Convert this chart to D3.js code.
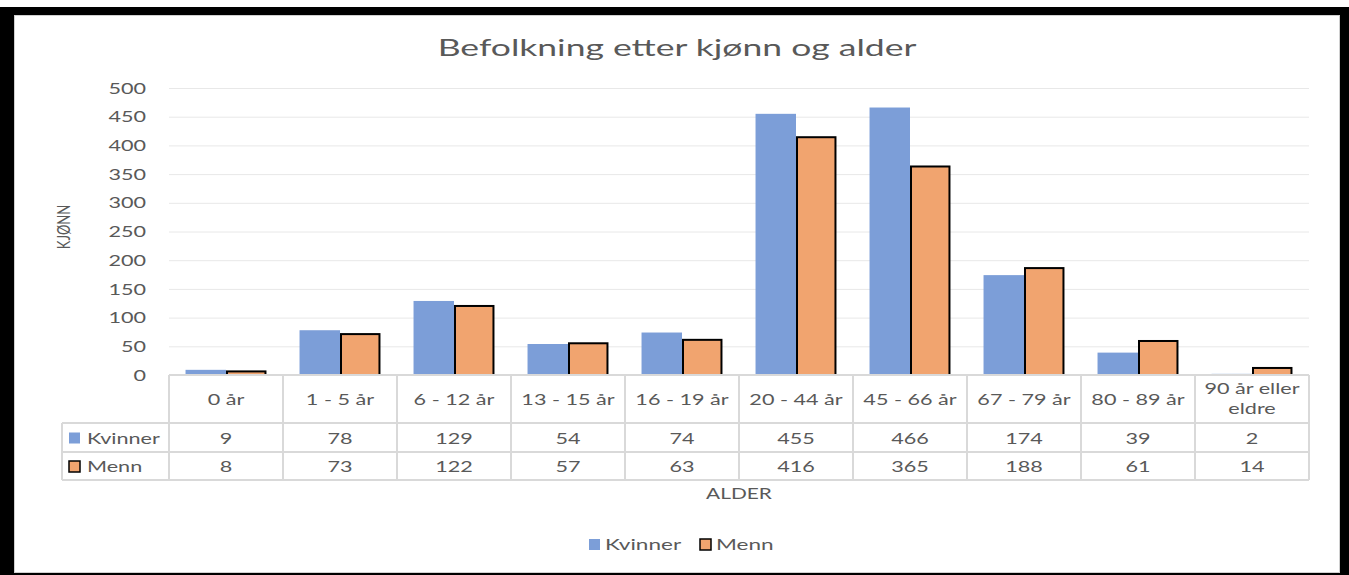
<!DOCTYPE html>
<html>
<head>
<meta charset="utf-8">
<script src="https://cdn.jsdelivr.net/npm/d3@7"></script>
<style>
  body { margin: 0; background: #fff; }
  text { font-family: Lato, "Open Sans", sans-serif; fill: #595959; }
</style>
</head>
<body>
<div id="chart"></div>
<script>
  const categories = ['0 år', '1 - 5 år', '6 - 12 år', '13 - 15 år', '16 - 19 år',
    '20 - 44 år', '45 - 66 år', '67 - 79 år', '80 - 89 år', '90 år eller eldre'];
  const kvinner = [9, 78, 129, 54, 74, 455, 466, 174, 39, 2];
  const menn = [8, 73, 122, 57, 63, 416, 365, 188, 61, 14];
  const yTicks = [0, 50, 100, 150, 200, 250, 300, 350, 400, 450, 500];

  const series = [
    { name: 'Kvinner', values: kvinner, fill: '#7C9ED8', stroke: 'none' },
    { name: 'Menn', values: menn, fill: '#F1A46F', stroke: '#000' }
  ];

  let W = 1349, H = 575;
  let plot = { left: 169, right: 1309, top: 88, bottom: 375 };
  let rowH = [48, 29, 28];
  let labelColLeft = 62;
  let stretch = 1.35; // the reference text is drawn wide

  let svg = d3.select('#chart').append('svg').attr('width', W).attr('height', H);

  // text helper, stretched horizontally
  function label(g, x, y, str, size, anchor, sx) {
    return g.append('text')
      .attr('transform', `translate(${x},${y}) scale(${sx || stretch},1)`)
      .attr('text-anchor', anchor || 'start')
      .style('font-size', size + 'px')
      .text(str);
  }

  // frame
  svg.append('rect').attr('x', 0).attr('y', 7).attr('width', W).attr('height', H - 7).attr('fill', '#000');
  svg.append('rect').attr('x', 14.5).attr('y', 15.5).attr('width', 1325).attr('height', 557)
    .attr('fill', '#fff').attr('stroke', '#d0d0d0').attr('stroke-width', 1);

  let x = d3.scaleBand().domain(categories).range([plot.left, plot.right])
    .paddingInner(0.29).paddingOuter(0.145);
  let xs = d3.scaleBand().domain(series.map((s) => s.name)).range([0, x.bandwidth()]);
  let y = d3.scaleLinear().domain([0, 500]).range([plot.bottom, plot.top]);

  // gridlines
  svg.append('g').selectAll('line').data(yTicks.slice(1)).enter().append('line')
    .attr('x1', plot.left).attr('x2', plot.right)
    .attr('y1', (d) => y(d) + 0.5).attr('y2', (d) => y(d) + 0.5)
    .attr('stroke', '#e8e8e8').attr('stroke-width', 1);

  // y axis labels
  let yAxis = svg.append('g').attr('transform', `translate(${plot.left - 23},0)`)
    .call(d3.axisLeft(y).tickValues(yTicks).tickSize(0).tickPadding(0));
  yAxis.select('.domain').remove();
  yAxis.selectAll('text').style('font-size', '16px').attr('fill', '#595959')
    .style('font-family', 'Lato, sans-serif')
    .attr('x', 0)
    .attr('transform', `scale(${stretch},1)`);

  // bars
  series.forEach((s) => {
    let inset = s.stroke === 'none' ? 0 : 1;
    svg.append('g').selectAll('rect').data(s.values).enter().append('rect')
      .attr('x', (d, i) => x(categories[i]) + xs(s.name) + inset)
      .attr('y', (d) => y(d) + inset)
      .attr('width', xs.bandwidth() - 2 * inset)
      .attr('height', (d) => Math.max(0, plot.bottom - y(d) - inset))
      .attr('fill', s.fill)
      .attr('stroke', s.stroke)
      .attr('stroke-width', 2);
  });

  // data table
  let tbl = svg.append('g');
  let step = x.step();
  let rows = [plot.bottom, plot.bottom + rowH[0], plot.bottom + rowH[0] + rowH[1], plot.bottom + rowH[0] + rowH[1] + rowH[2]];
  let gridColor = '#d9d9d9';

  tbl.append('line').attr('x1', plot.left).attr('x2', plot.right).attr('y1', rows[0]).attr('y2', rows[0])
    .attr('stroke', gridColor).attr('stroke-width', 2);
  [1, 2, 3].forEach((r) => {
    tbl.append('line').attr('x1', labelColLeft).attr('x2', plot.right).attr('y1', rows[r]).attr('y2', rows[r])
      .attr('stroke', gridColor).attr('stroke-width', 2);
  });
  d3.range(categories.length + 1).forEach((i) => {
    let xv = plot.left + i * step;
    tbl.append('line').attr('x1', xv).attr('x2', xv).attr('y1', rows[0]).attr('y2', rows[3])
      .attr('stroke', gridColor).attr('stroke-width', 2);
  });
  tbl.append('line').attr('x1', labelColLeft).attr('x2', labelColLeft).attr('y1', rows[1]).attr('y2', rows[3])
    .attr('stroke', gridColor).attr('stroke-width', 2);

  // header labels
  categories.forEach((c) => {
    let cx = x(c) + x.bandwidth() / 2;
    if (c === '90 år eller eldre') {
      label(tbl, cx, 394, '90 år eller', 16, 'middle');
      label(tbl, cx, 414, 'eldre', 16, 'middle');
    } else {
      label(tbl, cx, 405, c, 16, 'middle');
    }
  });

  // value rows
  series.forEach((s, r) => {
    let cy = (rows[r + 1] + rows[r + 2]) / 2;
    s.values.forEach((v, i) => {
      label(tbl, x(categories[i]) + x.bandwidth() / 2, cy + 6, v, 16, 'middle');
    });
    tbl.append('rect').attr('x', 69).attr('y', cy - 5).attr('width', 11).attr('height', 11)
      .attr('fill', s.fill).attr('stroke', s.stroke).attr('stroke-width', 1.5);
    label(tbl, 87, cy + 6, s.name, 16);
  });

  // titles
  label(svg, 677, 56, 'Befolkning etter kjønn og alder', 24, 'middle', 1.48);
  svg.append('text').attr('transform', 'translate(70,227) rotate(-90) scale(1,1.3)').attr('text-anchor', 'middle')
    .style('font-size', '13px').text('KJØNN');
  label(svg, (plot.left + plot.right) / 2, 499, 'ALDER', 15, 'middle', 1.39);

  // legend
  let legend = svg.append('g');
  let lx = [589, 700];
  series.forEach((s, i) => {
    legend.append('rect').attr('x', lx[i]).attr('y', 539).attr('width', 11).attr('height', 11)
      .attr('fill', s.fill).attr('stroke', s.stroke).attr('stroke-width', 1.5);
    label(legend, lx[i] + 16, 550, s.name, 16, 'start', 1.41);
  });
</script>
</body>
</html>
